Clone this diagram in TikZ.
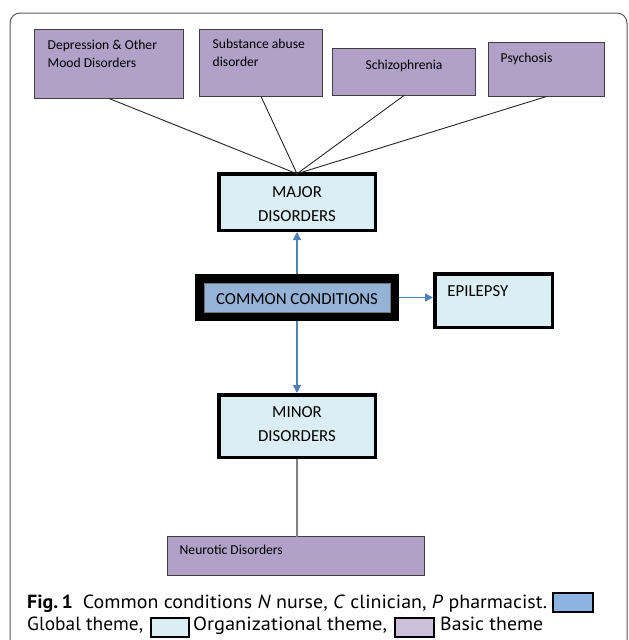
\documentclass[tikz,border=0pt]{standalone}
\usepackage{fontspec}
\usepackage{graphicx}
\setmainfont{Carlito}
\newfontfamily\capfont{PT Sans}
\usetikzlibrary{arrows.meta}
\definecolor{basicpurple}{HTML}{B1A0C7}
\definecolor{orgblue}{HTML}{DAEEF3}
\definecolor{globalblue}{HTML}{95B3D7}
\definecolor{arrowblue}{HTML}{4F81BD}
\definecolor{legendblue}{HTML}{8DB3E2}
\definecolor{legendpurple}{HTML}{CCC0DA}
\definecolor{framegray}{HTML}{5A5A5A}
\definecolor{linegray}{HTML}{7F7F7F}
\newcommand{\capfit}[2]{\resizebox{#1}{\height}{#2}}
\begin{document}
\begin{tikzpicture}[x=1pt,y=-1pt,
  basicbox/.style={draw=black!75, line width=1pt, fill=basicpurple, inner sep=0pt, outer sep=0pt},
  basictext/.style={inner sep=0pt, align=left, font=\fontsize{13.6}{18}\selectfont},
  orgbox/.style={draw=black, line width=3.5pt, fill=orgblue, inner sep=0pt, outer sep=0pt},
  orgtext/.style={inner sep=0pt, align=center, font=\fontsize{16.8}{24}\selectfont},
  globalbox/.style={draw=black, line width=9pt, fill=globalblue, inner sep=0pt, outer sep=0pt},
  innerline/.style={draw=black!55, line width=0.6pt},
  thinline/.style={draw=black!85, line width=0.9pt},
  grayline/.style={draw=linegray, line width=1.6pt},
  bluearrow/.style={draw=arrowblue, line width=1.5pt, -{Triangle[length=8pt,width=8pt]}},
  legendbox/.style={draw=black, line width=1.4pt, inner sep=0pt, outer sep=0pt},
  captext/.style={inner sep=0pt, anchor=base west, font=\capfont\fontsize{19}{22}\selectfont}
]
\useasboundingbox (0,0) rectangle (629,640);
% outer frame
\draw[framegray, line width=1pt, rounded corners=10pt] (10,642) -- (10,13) -- (627,13) -- (627,642);

% basic theme boxes
\node[basicbox, minimum width=149pt, minimum height=69pt,
  label={[basictext, anchor=north west, xshift=13pt, yshift=-10pt]north west:Depression \& Other\\Mood Disorders}] (dep) at (109,64) {};
\node[basicbox, minimum width=123pt, minimum height=67pt,
  label={[basictext, anchor=north west, xshift=13pt, yshift=-9.5pt]north west:Substance abuse\\disorder}] (sub) at (261,63) {};
\node[basicbox, minimum width=143pt, minimum height=47pt,
  label={[basictext, anchor=base, yshift=6.5pt]center:Schizophrenia}] (schizo) at (404,72) {};
\node[basicbox, minimum width=116pt, minimum height=54pt,
  label={[basictext, anchor=north west, xshift=12pt, yshift=-10pt]north west:Psychosis}] (psy) at (546.5,69.5) {};

% organizational boxes
\node[orgbox, minimum width=156.5pt, minimum height=56.5pt,
  label={[orgtext, yshift=-2pt]center:MAJOR\\DISORDERS}] (major) at (297,202) {};
\node[orgbox, minimum width=117.5pt, minimum height=53.5pt,
  label={[orgtext, anchor=north west, xshift=12.5pt, yshift=-11.5pt]north west:EPILEPSY}] (epi) at (493.5,300.5) {};
\node[orgbox, minimum width=156.5pt, minimum height=62.5pt,
  label={[orgtext, yshift=1.5pt]center:MINOR\\DISORDERS}] (minor) at (297,426) {};

% global box
\node[globalbox, minimum width=195pt, minimum height=38pt,
  label={[orgtext, yshift=-2pt]center:COMMON CONDITIONS}] (common) at (297,297.5) {};
\draw[innerline] ([xshift=4.5pt,yshift=-4.5pt]common.north west) rectangle ([xshift=-4.5pt,yshift=4.5pt]common.south east);

% neurotic
\node[basicbox, minimum width=257pt, minimum height=39pt,
  label={[basictext, anchor=north west, xshift=12pt, yshift=-8pt]north west:Neurotic Disorders}] (neuro) at (296,556) {};

% connectors
\draw[thinline] (dep.south) -- (major.north);
\draw[thinline] (sub.south) -- (major.north);
\draw[thinline] (schizo.south) -- (major.north);
\draw[thinline] (psy.south) -- (major.north);
\draw[bluearrow, shorten <=4.5pt, shorten >=1.75pt] (common.north) -- (major.south);
\draw[bluearrow, shorten <=4.5pt, shorten >=1.75pt] (common.south) -- (minor.north);
\draw[bluearrow, shorten <=4.5pt, shorten >=1.75pt] (common.east) -- (common.east -| epi.west);
\draw[grayline, shorten <=1.75pt] (minor.south) -- (minor.south |- neuro.north);

% caption
\node[captext] (cap1) at (27,608) {\capfit{520pt}{\textbf{Fig.\,1}\enspace Common conditions \textit{N} nurse, \textit{C} clinician, \textit{P} pharmacist.}};
\node[legendbox, fill=legendblue, minimum width=40pt, minimum height=19pt] (leg1) at (573,602.5) {};
\node[captext] (cap2) at (27,630) {\capfit{116pt}{Global theme,}};
\node[legendbox, fill=orgblue, minimum width=38pt, minimum height=19pt] (leg2) at (170,627.5) {};
\node[captext] (cap3) at (193,630) {\capfit{194pt}{Organizational theme,}};
\node[legendbox, fill=legendpurple, minimum width=39pt, minimum height=19pt] (leg3) at (414.5,627.5) {};
\node[captext] (cap4) at (440,630) {\capfit{103pt}{Basic theme}};
\end{tikzpicture}
\end{document}
